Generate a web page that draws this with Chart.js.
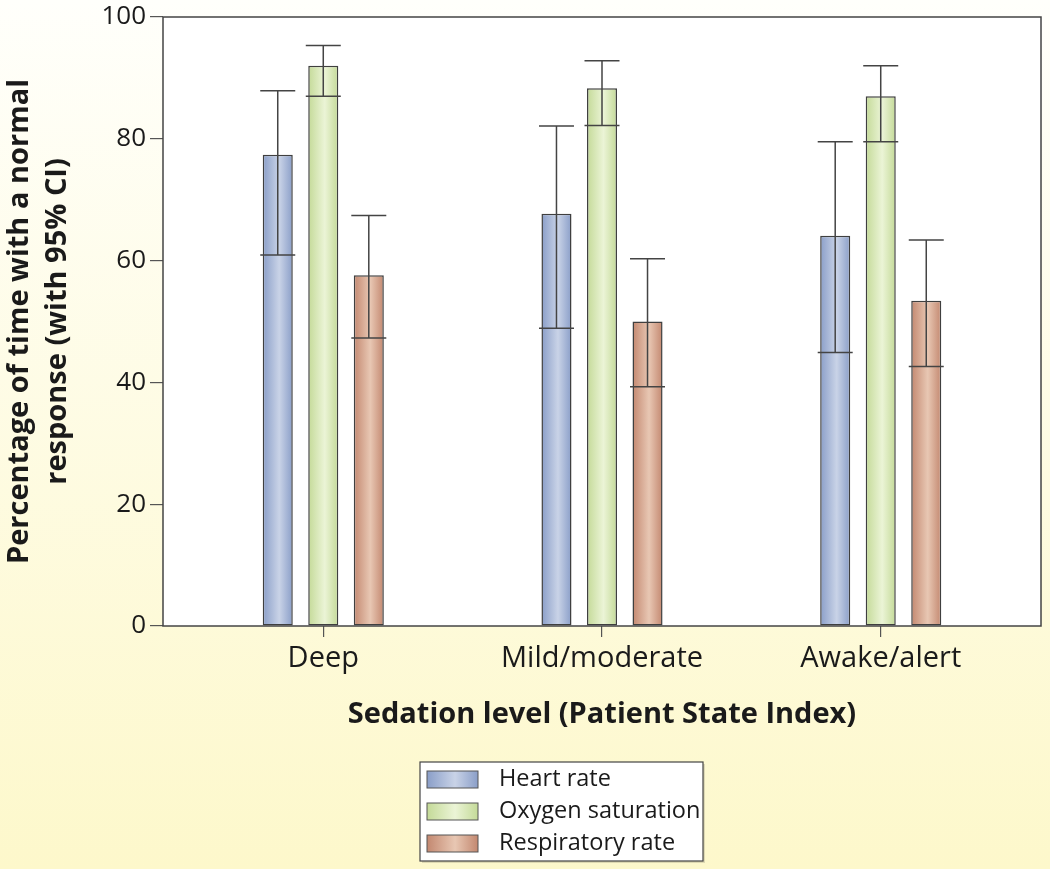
<!DOCTYPE html>
<html>
<head>
<meta charset="utf-8">
<script src="https://cdn.jsdelivr.net/npm/chart.js@4.4.1/dist/chart.umd.min.js"></script>
<style>
  html, body { margin: 0; padding: 0; background: #fff; }
  #wrap { width: 1050px; height: 869px; }
</style>
</head>
<body>
<div id="wrap"><canvas id="mycanvas" width="1050" height="869"></canvas></div>
<script>
// data
var categories = ['Deep', 'Mild/moderate', 'Awake/alert'];
var seriesNames = ['Heart rate', 'Oxygen saturation', 'Respiratory rate'];

var heartRate = [77.4, 67.7, 64.1];
var heartLow = [60.9, 48.9, 44.9];
var heartHigh = [87.9, 82.1, 79.5];

var oxygenSat = [92.0, 88.3, 87.0];
var oxygenLow = [87.0, 82.2, 79.5];
var oxygenHigh = [95.3, 92.8, 92.0];

var respRate = [57.6, 50.0, 53.4];
var respLow = [47.3, 39.3, 42.6];
var respHigh = [67.4, 60.3, 63.4];

var yTicks = [0, 20, 40, 60, 80, 100];

// colours: edge / centre of each bar's shading
var shades = [
  ['#8a9ec8', '#c9d3e7'],
  ['#c4da98', '#ebf4d6'],
  ['#c38870', '#e8c7b3']
];
var FONT = '"Open Sans", "Noto Sans", sans-serif';

function pts(arr) {
  return categories.map(function (c, i) { return { x: i, y: arr[i] }; });
}

var values = [heartRate, oxygenSat, respRate];
var lows = [heartLow, oxygenLow, respLow];
var highs = [heartHigh, oxygenHigh, respHigh];

function barGradient(ctx, left, right, s) {
  var g = ctx.createLinearGradient(left, 0, right, 0);
  g.addColorStop(0, s[0]);
  g.addColorStop(0.55, s[1]);
  g.addColorStop(1, s[0]);
  return g;
}

var backdrop = {
  id: 'backdrop',
  beforeDraw: function (chart) {
    var ctx = chart.ctx, a = chart.chartArea;
    var g = ctx.createLinearGradient(0, 0, 0, chart.height);
    g.addColorStop(0, '#fffffb');
    g.addColorStop(1, '#fdf8cb');
    ctx.save();
    ctx.fillStyle = g;
    ctx.fillRect(0, 0, chart.width, chart.height);
    ctx.fillStyle = '#ffffff';
    ctx.fillRect(a.left, a.top, a.right - a.left, a.bottom - a.top);
    ctx.restore();
  },
  beforeDatasetsDraw: function (chart) {
    // horizontal shading on every bar
    chart.data.datasets.forEach(function (ds, d) {
      chart.getDatasetMeta(d).data.forEach(function (el) {
        var w = el.width;
        el.options.backgroundColor = barGradient(chart.ctx, el.x - w / 2, el.x + w / 2, shades[d]);
      });
    });
  },
  afterDatasetsDraw: function (chart) {
    var ctx = chart.ctx, a = chart.chartArea, y = chart.scales.y;
    ctx.save();
    // confidence intervals
    ctx.strokeStyle = '#444';
    ctx.lineWidth = 1.5;
    chart.data.datasets.forEach(function (ds, d) {
      chart.getDatasetMeta(d).data.forEach(function (el, i) {
        var lo = y.getPixelForValue(lows[d][i]);
        var hi = y.getPixelForValue(highs[d][i]);
        var cap = 17.5;
        ctx.beginPath();
        ctx.moveTo(el.x, lo); ctx.lineTo(el.x, hi);
        ctx.moveTo(el.x - cap, lo); ctx.lineTo(el.x + cap, lo);
        ctx.moveTo(el.x - cap, hi); ctx.lineTo(el.x + cap, hi);
        ctx.stroke();
      });
    });
    // plot frame
    ctx.strokeStyle = '#444';
    ctx.lineWidth = 1.5;
    ctx.strokeRect(a.left, a.top, a.right - a.left, a.bottom - a.top);
    ctx.restore();
  },
  afterDraw: function (chart) {
    // boxed legend
    var ctx = chart.ctx;
    var bx = 420, by = 762, bw = 283, bh = 99;
    ctx.save();
    ctx.fillStyle = 'rgba(0,0,0,0.12)';
    ctx.fillRect(bx + 2, by + 2, bw, bh);
    ctx.fillStyle = '#ffffff';
    ctx.fillRect(bx, by, bw, bh);
    ctx.strokeStyle = '#444';
    ctx.lineWidth = 1.2;
    ctx.strokeRect(bx, by, bw, bh);
    ctx.font = '23.5px ' + FONT;
    ctx.textBaseline = 'middle';
    chart.data.datasets.forEach(function (ds, d) {
      var cy = by + 17 + d * 32;
      ctx.fillStyle = barGradient(ctx, bx + 7, bx + 58, shades[d]);
      ctx.fillRect(bx + 7, cy - 8, 51, 17);
      ctx.strokeStyle = '#555';
      ctx.lineWidth = 1;
      ctx.strokeRect(bx + 7, cy - 8, 51, 17);
      ctx.fillStyle = '#1a1a1a';
      ctx.fillText(ds.label, bx + 79, cy);
    });
    ctx.restore();
  }
};

var chartdata = {
  datasets: seriesNames.map(function (name, d) {
    return {
      label: name,
      data: pts(values[d]),
      backgroundColor: function () { return shades[d][0]; },
      borderColor: '#3f3f3f',
      borderWidth: 1.5,
      borderSkipped: false,
      categoryPercentage: 0.49,
      barPercentage: 0.66
    };
  })
};

var ctx = document.getElementById('mycanvas').getContext('2d');
var BarGraph = new Chart(ctx, {
  type: 'bar',
  data: chartdata,
  plugins: [backdrop],
  options: {
    responsive: false,
    animation: false,
    layout: { padding: { left: 0, top: 15, right: 9, bottom: 133 } },
    plugins: {
      legend: { display: false },
      tooltip: { enabled: false }
    },
    scales: {
      x: {
        type: 'linear',
        offset: false,
        min: -0.575,
        max: 2.575,
        afterBuildTicks: function (s) {
          s.ticks = categories.map(function (c, i) { return { value: i }; });
        },
        afterFit: function (s) { s.height = 110; },
        ticks: {
          callback: function (v) { return categories[v]; },
          color: '#1a1a1a',
          font: { family: FONT, size: 29 },
          padding: 4,
          maxRotation: 0
        },
        grid: { offset: false, drawOnChartArea: false, tickLength: 11, color: '#555', lineWidth: 1.2 },
        border: { display: false },
        title: {
          display: true,
          text: 'Sedation level (Patient State Index)',
          color: '#1a1a1a',
          font: { family: FONT, size: 29, weight: 'bold' },
          padding: { top: 10 }
        }
      },
      y: {
        min: 0,
        max: 100,
        afterBuildTicks: function (s) {
          s.ticks = yTicks.map(function (v) { return { value: v }; });
        },
        afterFit: function (s) { s.width = 163; },
        ticks: {
          color: '#1a1a1a',
          font: { family: FONT, size: 26, lineHeight: 1.0 },
          padding: 4
        },
        grid: { drawOnChartArea: false, tickLength: 13, color: '#555', lineWidth: 1.2 },
        border: { display: false },
        title: {
          display: true,
          text: ['Percentage of time with a normal', 'response (with 95% CI)'],
          color: '#1a1a1a',
          font: { family: FONT, size: 29, weight: 'bold', lineHeight: 1.3 },
          padding: { top: 1, bottom: 0 }
        }
      }
    }
  }
});
</script>
</body>
</html>
